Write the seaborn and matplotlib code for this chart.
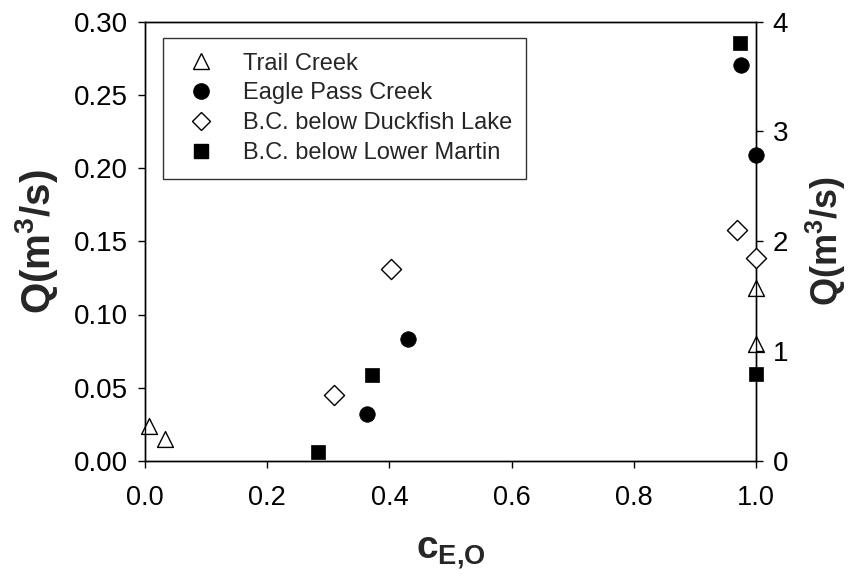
import matplotlib
matplotlib.use("Agg")
import matplotlib.pyplot as plt
import seaborn as sns
import pandas as pd
from matplotlib.lines import Line2D

sns.set_theme(style="white")
plt.rcParams['font.family'] = ['Liberation Sans', 'DejaVu Sans']
plt.rcParams['mathtext.fontset'] = 'custom'
plt.rcParams['mathtext.rm'] = 'Liberation Sans'
plt.rcParams['mathtext.bf'] = 'Liberation Sans:bold'

# Left-axis series (Q in m3/s, left scale)
trail_x = [0.007, 0.032, 1.0, 1.0]
trail_q = [0.0239, 0.0150, 0.1184, 0.0802]
eagle_x = [0.363, 0.430, 0.975, 1.0]
eagle_q = [0.0318, 0.0830, 0.270, 0.2086]
# Right-axis series (Q in m3/s, right scale)
duck_x = [0.309, 0.403, 0.969, 1.0]
duck_q = [0.600, 1.743, 2.106, 1.848]
martin_x = [0.283, 0.372, 0.973, 1.0]
martin_q = [0.085, 0.779, 3.80, 0.788]

labels = ["Trail Creek", "Eagle Pass Creek", "B.C. below Duckfish Lake", "B.C. below Lower Martin"]
left_ticks = [0.00, 0.05, 0.10, 0.15, 0.20, 0.25, 0.30]
right_ticks = [0, 1, 2, 3, 4]
x_ticks = [0.0, 0.2, 0.4, 0.6, 0.8, 1.0]

fig = plt.figure(figsize=(8.5, 5.76), dpi=100)
ax = fig.add_axes([145/850, 1-461/576, (756-145)/850, (461-21.5)/576])
ax2 = ax.twinx()

df_t = pd.DataFrame({"x": trail_x, "q": trail_q})
df_e = pd.DataFrame({"x": eagle_x, "q": eagle_q})
df_d = pd.DataFrame({"x": duck_x, "q": duck_q})
df_m = pd.DataFrame({"x": martin_x, "q": martin_q})

kw = dict(clip_on=False, zorder=5, legend=False)
sns.scatterplot(data=df_t, x="x", y="q", ax=ax, marker="^", s=130, facecolor="white",
                edgecolor="black", linewidth=1.0, **kw)
sns.scatterplot(data=df_e, x="x", y="q", ax=ax, marker="o", s=125, color="black",
                edgecolor="black", linewidth=0.5, **kw)
sns.scatterplot(data=df_d, x="x", y="q", ax=ax2, marker="D", s=105, facecolor="white",
                edgecolor="black", linewidth=1.0, **kw)
sns.scatterplot(data=df_m, x="x", y="q", ax=ax2, marker="s", s=105, color="black",
                edgecolor="black", linewidth=0.5, **kw)

ax.set_xlim(0, 1.0)
ax.set_ylim(0, 0.30)
ax2.set_ylim(0, 4)
ax.set_xticks(x_ticks)
ax.set_xticklabels([f"{v:.1f}" for v in x_ticks])
ax.set_yticks(left_ticks)
ax.set_yticklabels([f"{v:.2f}" for v in left_ticks])
ax2.set_yticks(right_ticks)
ax2.set_yticklabels([str(v) for v in right_ticks])

for a in (ax, ax2):
    for sp in a.spines.values():
        sp.set_color("black")
        sp.set_linewidth(1.0)
    a.tick_params(direction="out", length=5, width=1.0, colors="black", labelsize=20, pad=7)
ax.tick_params(axis="y", left=True, right=False)
ax.tick_params(axis="x", bottom=True, pad=12, labelsize=19.5)
ax2.tick_params(axis="y", right=True, left=False)

ax.set_xlabel(r"$\mathbf{c}_{\mathbf{E{,}O}}$", fontsize=28)
ax.xaxis.set_label_coords(0.5, -0.170)
ax.set_ylabel(r"Q(m$^{\mathbf{3}}$/s)", fontsize=29, fontweight="bold")
ax.yaxis.set_label_coords(-0.1768, 0.5)
ax.yaxis.label.set_verticalalignment("center")
ax2.set_ylabel(r"Q(m$^{\mathbf{3}}$/s)", fontsize=26, fontweight="bold")
ax2.yaxis.set_label_coords((826-145)/611, 0.5)
ax2.yaxis.label.set_verticalalignment("center")
ax2.yaxis.label.set_rotation(90)

handles = [
    Line2D([], [], marker="^", linestyle="none", markersize=11.5, markerfacecolor="white", markeredgecolor="black"),
    Line2D([], [], marker="o", linestyle="none", markersize=11, markerfacecolor="black", markeredgecolor="black"),
    Line2D([], [], marker="D", linestyle="none", markersize=9, markerfacecolor="white", markeredgecolor="black"),
    Line2D([], [], marker="s", linestyle="none", markersize=10, markerfacecolor="black", markeredgecolor="black"),
]
leg = ax2.legend(handles, labels, loc="upper left", bbox_to_anchor=((163-145)/611, (461-38)/439.5),
                 borderaxespad=0, frameon=True, fancybox=False, edgecolor="black", fontsize=17,
                 handletextpad=0.75, labelspacing=0.33, borderpad=0.62, handlelength=2.0)
leg.get_frame().set_linewidth(1.0)

fig.savefig("out.png", dpi=100)
